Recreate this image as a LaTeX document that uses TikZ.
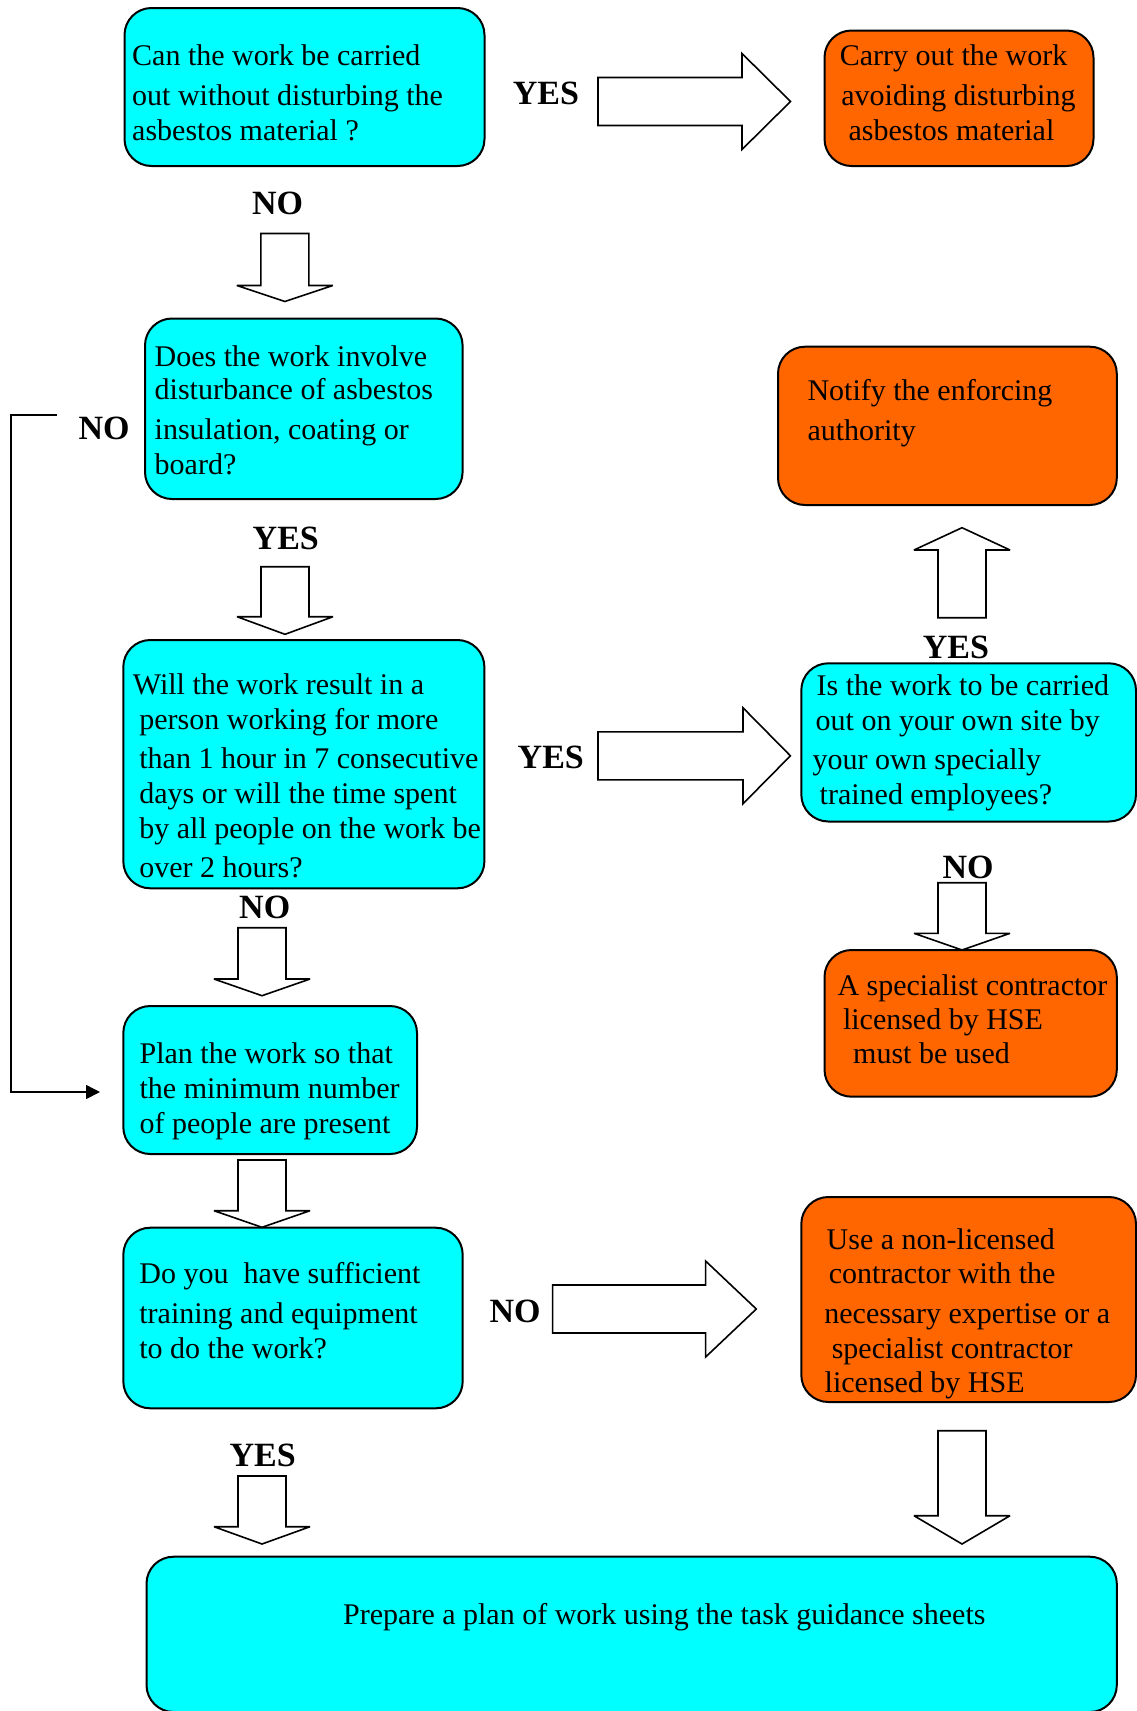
\documentclass[tikz,border=0pt]{standalone}
\usepackage{fontspec}
\setmainfont{Liberation Serif}
\usetikzlibrary{arrows.meta}

\definecolor{qcyan}{RGB}{0,255,255}
\definecolor{actorange}{RGB}{255,102,0}

\tikzset{
  flowbox/.style={draw=black, line width=2pt, rounded corners=27pt, inner sep=0pt, outer sep=0pt},
  question/.style={flowbox, fill=qcyan},
  action/.style={flowbox, fill=actorange},
  boxtext/.style={anchor=north west, inner sep=0pt, align=left, font=\fontsize{30}{36.5}\selectfont},
  answer/.style={inner sep=0pt, font=\fontsize{34}{34}\selectfont\bfseries},
  blockarrow/.style={draw=black, fill=white, line width=1.6pt, line join=miter, miter limit=3},
  loopline/.style={draw=black, line width=1.6pt, -{Triangle[length=14pt,width=14pt]}},
}

% rounded box given by its corners: style, name, x0, y0, x1, y1
\newcommand{\flowboxat}[6]{%
  \node[#1, minimum width={#5-#3}, minimum height={#6-#4}] (#2) at ({(#3+#5)/2},{(#4+#6)/2}) {};}
% vertical block arrow: centre x, tail y, head base y, tip y
\newcommand{\vblock}[4]{%
  \draw[blockarrow] ({#1-24},#2) -- ({#1+24},#2) -- ({#1+24},#3) -- ({#1+48},#3) -- (#1,#4)
    -- ({#1-48},#3) -- ({#1-24},#3) -- cycle;}
% horizontal block arrow: centre y, tail x, head base x, tip x
\newcommand{\hblock}[4]{%
  \draw[blockarrow] (#2,{#1-24}) -- (#3,{#1-24}) -- (#3,{#1-48}) -- (#4,#1)
    -- (#3,{#1+48}) -- (#3,{#1+24}) -- (#2,{#1+24}) -- cycle;}
\newcommand{\firststrut}{\rule{0pt}{25pt}}

\begin{document}
\begin{tikzpicture}[x=1pt,y=-1pt]
\useasboundingbox (0,0) rectangle (1137,1711);

% boxes
\flowboxat{question}{carefully}{124.5}{8}{484.5}{166}
\flowboxat{action}{avoid}{824.5}{30.5}{1093.5}{166}
\flowboxat{question}{disturb}{145}{318.5}{462.6}{499}
\flowboxat{question}{duration}{123.3}{640}{484.4}{888.3}
\flowboxat{question}{ownsite}{801.3}{663.3}{1136}{821.5}
\flowboxat{action}{notify}{778}{346.7}{1116.8}{505}
\flowboxat{action}{licensed}{824.5}{950}{1116.8}{1096.7}
\flowboxat{question}{minimum}{123.3}{1006}{417}{1154}
\flowboxat{question}{training}{123.3}{1227.7}{462.7}{1408.3}
\flowboxat{action}{nonlicensed}{801.3}{1197}{1136}{1402}
\flowboxat{question}{planwork}{146.5}{1556.7}{1116.8}{1712}

% box texts
\node[boxtext] (carefully-t) at (132,40) {\firststrut Can the work be carried\\[3.5pt]
  out without disturbing the\\[-0.8pt]
  asbestos material ?};
\node[boxtext] (avoid-t) at (839.7,40) {\firststrut Carry out the work\\[3.5pt]
  \hspace*{1.5pt}avoiding disturbing\\[-0.8pt]
  \hspace*{8.7pt}asbestos material};
\node[boxtext] (disturb-t) at (154.5,341) {\firststrut Does the work involve\\[-2.9pt]
  disturbance of asbestos\\[3.5pt]
  insulation, coating or\\[-1.9pt]
  board?};
\node[boxtext] (duration-t) at (132.7,669.5) {\firststrut Will the work result in a\\[-1.5pt]
  \hspace*{6.5pt}person working for more\\[1.8pt]
  \hspace*{6.5pt}than 1 hour in 7 consecutive\\[-1.2pt]
  \hspace*{6.5pt}days or will the time spent\\[-1pt]
  \hspace*{6.5pt}by all people on the work be\\[2.3pt]
  \hspace*{6.5pt}over 2 hours?};
\node[boxtext] (ownsite-t) at (812.5,670) {\firststrut\hspace*{4pt}Is the work to be carried\\[-1.5pt]
  \hspace*{3pt}out on your own site by\\[2.8pt]
  your own specially\\[-1.8pt]
  \hspace*{7pt}trained employees?};
\node[boxtext] (notify-t) at (807.3,375) {\firststrut Notify the enforcing\\[3.5pt]
  authority};
\node[boxtext] (licensed-t) at (837.3,970) {\firststrut A specialist contractor\\[-2.5pt]
  \hspace*{5.5pt}licensed by HSE\\[-2pt]
  \hspace*{15.7pt}must be used};
\node[boxtext] (minimum-t) at (139.4,1038) {\firststrut Plan the work so that\\[-1.5pt]
  the minimum number\\[-1.5pt]
  of people are present};
\node[boxtext] (training-t) at (139.2,1258) {\firststrut Do you\ \ have sufficient\\[3.5pt]
  training and equipment\\[-1.5pt]
  to do the work?};
\node[boxtext] (nonlicensed-t) at (824.2,1224) {\firststrut\hspace*{2.3pt}Use a non-licensed\\[-2.5pt]
  \hspace*{4.5pt}contractor with the\\[3.8pt]
  necessary expertise or a\\[-1.5pt]
  \hspace*{7.4pt}specialist contractor\\[-2.3pt]
  \hspace*{0.3pt}licensed by HSE};
\node[boxtext] (planwork-t) at (343,1599) {\firststrut Prepare a plan of work using the task guidance sheets};

% answers
\node[answer] (yes1) at (546,93.5) {YES};
\node[answer] (no1) at (277.5,203.5) {NO};
\node[answer] (no2) at (104,428.5) {NO};
\node[answer] (yes2) at (285.8,538.3) {YES};
\node[answer] (yes3) at (550.8,757.5) {YES};
\node[answer] (yes4) at (956,647.7) {YES};
\node[answer] (no3) at (968,867) {NO};
\node[answer] (no4) at (264.7,907.7) {NO};
\node[answer] (no5) at (515,1311) {NO};
\node[answer] (yes5) at (262.7,1455) {YES};

% block arrows
\hblock{101.5}{598}{742}{790.5}
\hblock{755.8}{598}{743}{790.4}
\hblock{1309}{552.6}{705.6}{756.3}
\vblock{284.8}{233.5}{285.5}{301.5}
\vblock{285}{566.7}{616.7}{634.3}
\vblock{262}{927.7}{979}{995.7}
\vblock{262}{1160}{1210.7}{1227.3}
\vblock{262}{1476}{1526.7}{1544}
\vblock{962}{617.7}{550}{527.7}
\vblock{962}{882.7}{933.3}{950}
\vblock{962}{1430.7}{1515.7}{1544}

% NO branch from the insulation question to the planning step
\coordinate (loopfrom) at (56.6,415);
\coordinate (loopto) at (100,1092);
\draw[loopline] (loopfrom) -- ++(-45.6,0) |- (loopto);
\end{tikzpicture}
\end{document}
